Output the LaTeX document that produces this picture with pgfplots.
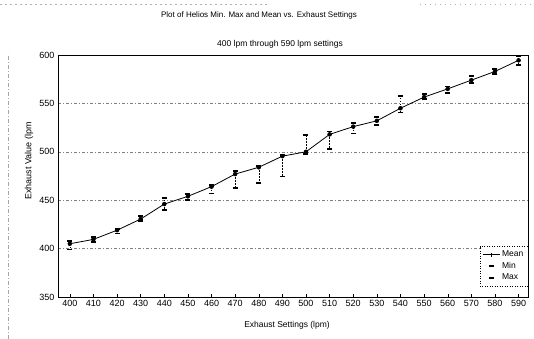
\documentclass[border=0pt]{standalone}
\usepackage{fontspec}
\setmainfont{Liberation Sans}
\usepackage{pgfplots}
\usepackage{pgfplotstable}
\pgfplotsset{compat=1.18}
\pgfplotstableread{
x mean min max
400 405 399 408
410 409.5 407 412
420 419 415.5 420.5
430 430.5 428.5 433.5
440 446 440 452
450 454 450 456
460 464 457 465.5
470 477 462.5 480.5
480 484 467.5 485
490 495.5 474.5 497
500 500 498 517.5
510 518 503 521
520 526 519 529.5
530 532 528 536
540 545 540.5 558
550 556.5 554.5 560
560 565 561 567.5
570 574 571 578
580 583 580.5 585.5
590 594.5 590 598.5
}\data
\begin{document}
\begin{tikzpicture}[x=1pt,y=1pt]
\useasboundingbox (0,0) rectangle (534,339);
\draw[gray!70, thin, dash pattern=on 4pt off 2pt on 1pt off 2pt] (8,0) -- (8,285);
\draw[gray!60, thin, dash pattern=on 2pt off 3pt] (0,335) -- (270,335);
\draw[gray!60, thin, dash pattern=on 1pt off 4pt] (420,335) -- (534,335);
\node[font=\fontsize{8}{9}\selectfont] at (259,324) {Plot of Helios Min. Max and Mean vs. Exhaust Settings};
\node[font=\fontsize{8.5}{10}\selectfont] at (280,295) {400 lpm through 590 lpm settings};
\node[rotate=90, font=\fontsize{9}{10}\selectfont] at (29,178) {Exhaust Value (lpm};
\node[font=\fontsize{8.5}{10}\selectfont] at (287,14) {Exhaust Settings (lpm)};
\begin{axis}[at={(58pt,42pt)}, anchor=south west, scale only axis,
  width=470pt, height=242pt,
  xmin=395, xmax=594, ymin=350, ymax=600,
  xtick={400,410,...,590}, ytick={350,400,...,600},
  /pgf/number format/assume math mode=true,
  /pgf/number format/1000 sep={},
  xticklabel style={font=\fontsize{9}{10}\selectfont},
  yticklabel style={font=\fontsize{9}{10}\selectfont},
  tick align=inside, xtick pos=bottom, ytick pos=left,
  ytick style={draw=none}, xtick style={black, thin},
  major tick length=3pt,
  ymajorgrids, grid style={gray, thin, dash pattern=on 3pt off 2pt on 1pt off 2pt},
  axis line style={black, line width=0.9pt},
  legend style={at={(rel axis cs:1,0.045)}, anchor=south east,
    draw=black, line width=0.3pt, dash pattern=on 1pt off 1.5pt,
    font=\fontsize{8.5}{9}\selectfont, row sep=0pt, inner sep=2.5pt},
  legend cell align=left,
]
\addplot[forget plot, only marks, mark=none,
  error bars/.cd, y dir=both, y explicit, error mark=none,
  error bar style={draw=black, thin, dash pattern=on 1.5pt off 1.5pt}]
  table[x=x, y=mean, y error plus expr=\thisrow{max}-\thisrow{mean},
        y error minus expr=\thisrow{mean}-\thisrow{min}] {\data};
\addplot[black, solid, line width=0.8pt, mark=+, mark size=2pt, mark options={solid, line width=0.8pt}]
  table[x=x, y=mean] {\data};
\addlegendentry{Mean}
\addplot[only marks, black, mark=-, mark size=2.5pt, mark options={solid, line width=1.8pt}]
  table[x=x, y=min] {\data};
\addlegendentry{Min}
\addplot[only marks, black, mark=-, mark size=2.5pt, mark options={solid, line width=1.8pt}]
  table[x=x, y=max] {\data};
\addlegendentry{Max}
\end{axis}
\end{tikzpicture}
\end{document}
